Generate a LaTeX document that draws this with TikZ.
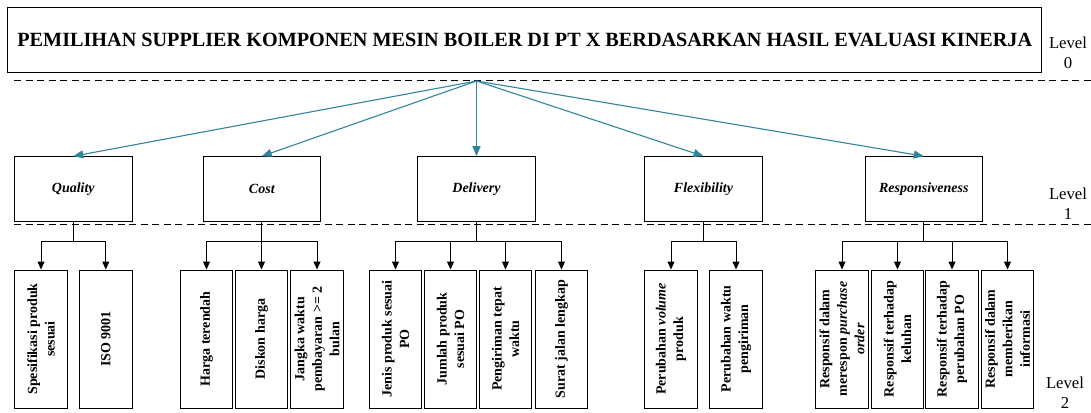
\documentclass[tikz,border=0pt]{standalone}
\usepackage{fontspec}
\setmainfont{Liberation Serif}
\usetikzlibrary{arrows.meta}
\definecolor{tealarrow}{RGB}{49,133,155}
\begin{document}
\begin{tikzpicture}[x=1pt,y=-1pt,
  titlebox/.style={draw, line width=1pt, minimum width=1034pt, minimum height=64.7pt, inner sep=0pt, font=\fontsize{20.2}{24}\selectfont\bfseries},
  crit/.style={draw, line width=1pt, minimum width=117.5pt, minimum height=64.3pt, inner sep=0pt, font=\fontsize{14}{17}\selectfont\bfseries\itshape},
  leaf/.style={draw, line width=1pt, rotate=90, minimum width=138pt, minimum height=52.5pt, inner sep=0pt, align=center, font=\fontsize{14}{17.5}\selectfont\bfseries},
  lvl/.style={align=center, inner sep=0pt, font=\fontsize{16.7}{20}\selectfont},
  sepline/.style={dash pattern=on 7pt off 4.5pt, line width=0.9pt},
  tarr/.style={color=tealarrow, line width=1.1pt, -{Triangle[length=10pt,width=8pt]}},
  barr/.style={line width=1pt, -{Triangle[length=8pt,width=7pt]}}
]
\useasboundingbox (0,0) rectangle (1091,412);

% title
\node[titlebox] (title) at (524.8,40) {PEMILIHAN SUPPLIER KOMPONEN MESIN BOILER DI PT X BERDASARKAN HASIL EVALUASI KINERJA};

% level labels
\node[lvl] (lv0) at (1068,53) {Level\\0};
\node[lvl] (lv1) at (1068,203.5) {Level\\1};
\node[lvl] (lv2) at (1065,393) {Level\\2};

% dashed separators
\draw[sepline] (14,80.7) -- (1091,80.7);
\draw[sepline] (14,224.3) -- (1091,224.3);

% level 1
\node[crit] (qual) at (73.3,188.85) {Quality};
\node[crit] (cost) at (261.8,188.85) {Cost};
\node[crit] (deli) at (476.5,188.85) {Delivery};
\node[crit] (flex) at (703.5,188.85) {Flexibility};
\node[crit] (resp) at (923.8,188.85) {Responsiveness};

\coordinate (src) at (476.5,81);
\foreach \n in {qual,cost,deli,flex,resp}
  \draw[tarr] (src) -- (\n.north);

% level 2
\node[leaf] (q1) at (41,339) {Spesifikasi produk\\sesuai};
\node[leaf] (q2) at (105.8,339) {ISO 9001};
\node[leaf] (c1) at (206.5,339) {Harga terendah};
\node[leaf] (c2) at (261.5,339) {Diskon harga};
\node[leaf] (c3) at (317,339) {Jangka waktu\\pembayaran >= 2\\bulan};
\node[leaf] (d1) at (395.5,339) {Jenis produk sesuai\\PO};
\node[leaf] (d2) at (450.5,339) {Jumlah produk\\sesuai PO};
\node[leaf] (d3) at (505.5,339) {Pengiriman tepat\\waktu};
\node[leaf] (d4) at (561.5,339) {Surat jalan lengkap};
\node[leaf] (f1) at (671,339) {Perubahan \textit{volume}\\produk};
\node[leaf] (f2) at (736,339) {Perubahan waktu\\pengiriman};
\node[leaf] (r1) at (842,339) {Responsif dalam\\merespon \textit{purchase}\\\textit{order}};
\node[leaf] (r2) at (897.5,339) {Responsif terhadap\\keluhan};
\node[leaf] (r3) at (952,339) {Responsif terhadap\\perubahan PO};
\node[leaf] (r4) at (1007.5,339) {Responsif dalam\\memberikan\\informasi};

\foreach \p/\c in {qual/q1,qual/q2,cost/c1,cost/c2,cost/c3,deli/d1,deli/d2,deli/d3,deli/d4,flex/f1,flex/f2,resp/r1,resp/r2,resp/r3,resp/r4}
  \draw[barr] (\p.south) -- ++(0,19.7) -| (\c.east);
\end{tikzpicture}
\end{document}
